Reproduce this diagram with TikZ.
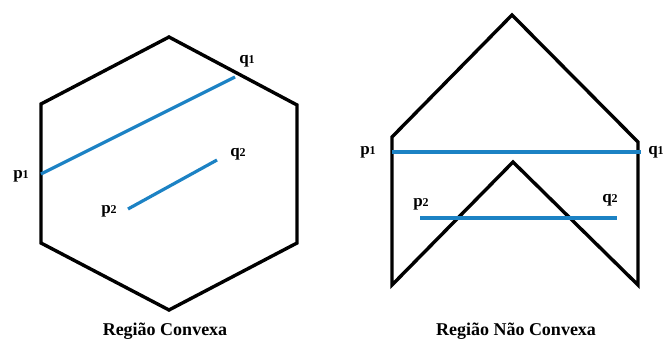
\documentclass[tikz,border=0pt]{standalone}
\usepackage{fontspec}
\setmainfont{Liberation Serif}
\definecolor{segblue}{RGB}{28,130,196}
\tikzset{
  poly/.style={draw=black, line width=3.4pt, line join=miter},
  seg/.style={draw=segblue, line width=3.2pt},
  thickseg/.style={draw=segblue, line width=4.2pt},
  lbl/.style={font=\fontsize{17}{17}\selectfont\bfseries, inner sep=0pt},
  captionlbl/.style={font=\fontsize{18}{18}\selectfont\bfseries, inner sep=0pt}
}
\newcommand{\ptlabel}[2]{#1{\fontsize{12}{12}\selectfont #2}}
\begin{document}
\begin{tikzpicture}[x=1pt,y=-1pt]
\useasboundingbox (0,0) rectangle (669,345);
% convex hexagon
\coordinate (h1) at (169,37);
\coordinate (h2) at (297,105);
\coordinate (h3) at (297,243);
\coordinate (h4) at (169,310);
\coordinate (h5) at (41,243);
\coordinate (h6) at (41,104);
\draw[poly] (h1) -- (h2) -- (h3) -- (h4) -- (h5) -- (h6) -- cycle;
\coordinate (P1) at (41,174);
\coordinate (Q1) at (235,77);
\coordinate (P2) at (128,209);
\coordinate (Q2) at (217,160);
\draw[seg] (P1) -- (Q1);
\draw[seg] (P2) -- (Q2);
\node[lbl] (lp1) at (21,176) {\ptlabel{p}{1}};
\node[lbl] (lq1) at (247,61) {\ptlabel{q}{1}};
\node[lbl] (lp2) at (109,211) {\ptlabel{p}{2}};
\node[lbl] (lq2) at (238,154) {\ptlabel{q}{2}};
\node[captionlbl] (c1) at (165,331) {Região Convexa};
% non-convex region
\coordinate (n1) at (392,137);
\coordinate (n2) at (512,15);
\coordinate (n3) at (638,142);
\coordinate (n4) at (638,285);
\coordinate (n5) at (513,162);
\coordinate (n6) at (392,285);
\draw[poly] (n1) -- (n2) -- (n3) -- (n4) -- (n5) -- (n6) -- cycle;
\coordinate (R1) at (392,152);
\coordinate (S1) at (641,152);
\coordinate (R2) at (420,218);
\coordinate (S2) at (617,218);
\draw[thickseg] (R1) -- (S1);
\draw[seg] (R2) -- (S2);
\node[lbl] (rp1) at (368,152) {\ptlabel{p}{1}};
\node[lbl] (rq1) at (656,152) {\ptlabel{q}{1}};
\node[lbl] (rp2) at (421,204) {\ptlabel{p}{2}};
\node[lbl] (rq2) at (610,200) {\ptlabel{q}{2}};
\node[captionlbl] (c2) at (516,331) {Região Não Convexa};
\end{tikzpicture}
\end{document}
